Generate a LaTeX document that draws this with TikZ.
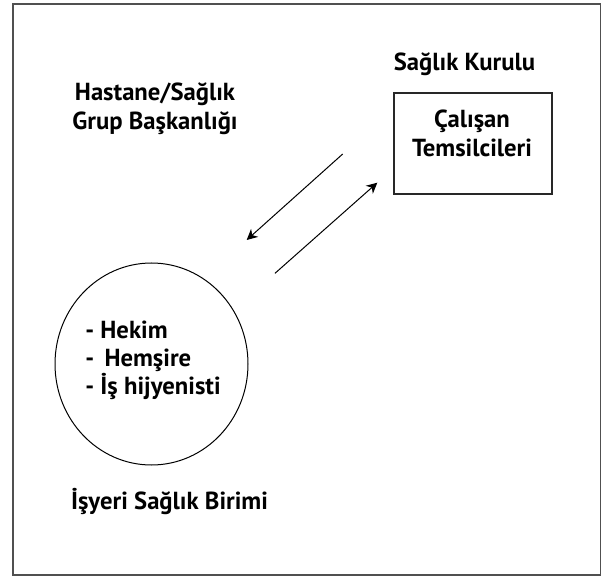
\documentclass[tikz,border=0pt]{standalone}
\usepackage{fontspec}
\setmainfont{PT Sans}
\usepackage{tikz}
\usetikzlibrary{shapes.geometric, arrows.meta}
\tikzstyle{arrow} = [line width=0.75,-{Stealth[length=8pt,width=8pt,inset=2.5pt]}]
\tikzstyle{lbl} = [font=\bfseries\fontsize{18.5}{22}\selectfont, align=center, inner sep=0.75pt]

\begin{document}
\begin{tikzpicture}[x=0.75pt,y=0.75pt,yscale=-1,xscale=1]
%set diagram at 603 x 577
\useasboundingbox (0,0) rectangle (603,577);

%Shape: Rectangle [frame]
\draw [color={rgb, 255:red, 80; green, 80; blue, 80 }, line width=1.2] (13,4) rectangle (600.5,575);

% Text Node
\node (hastane) [lbl] at (155,109) {Hastane/Sağlık\\Grup Başkanlığı};
% Text Node
\node (kurul) [lbl] at (464.5,64) {Sağlık Kurulu};
%Shape: Rectangle
\node (temsil) [draw, color={rgb, 255:red, 40; green, 40; blue, 40 }, line width=0.9, minimum width=118.5pt, minimum height=75.75pt] at (473,143.5) {};
% Text Node
\node (temsiltxt) [lbl, text=black] at (472,133.5) {Çalışan\\Temsilcileri};

%Shape: Ellipse
\node (birim) [ellipse, draw, line width=0.75, minimum width=144.75pt, minimum height=151.5pt, inner sep=0] at (151.5,364) {};
% Text Node
\node (birimtxt) [lbl, align=left, font=\bfseries\fontsize{18.5}{21}\selectfont] at (153,360) {- Hekim\\- \,Hemşire\\- İş hijyenisti};
% Text Node
\node (isyeri) [lbl] at (169.5,502) {İşyeri Sağlık Birimi};

%Straight Lines
\coordinate (a1s) at (342.7,154);
\coordinate (a1e) at (246.7,240);
\coordinate (a2s) at (275,273.3);
\coordinate (a2e) at (377.3,182.7);
\draw [arrow] (a1s) -- (a1e);
\draw [arrow] (a2s) -- (a2e);

\end{tikzpicture}
\end{document}
